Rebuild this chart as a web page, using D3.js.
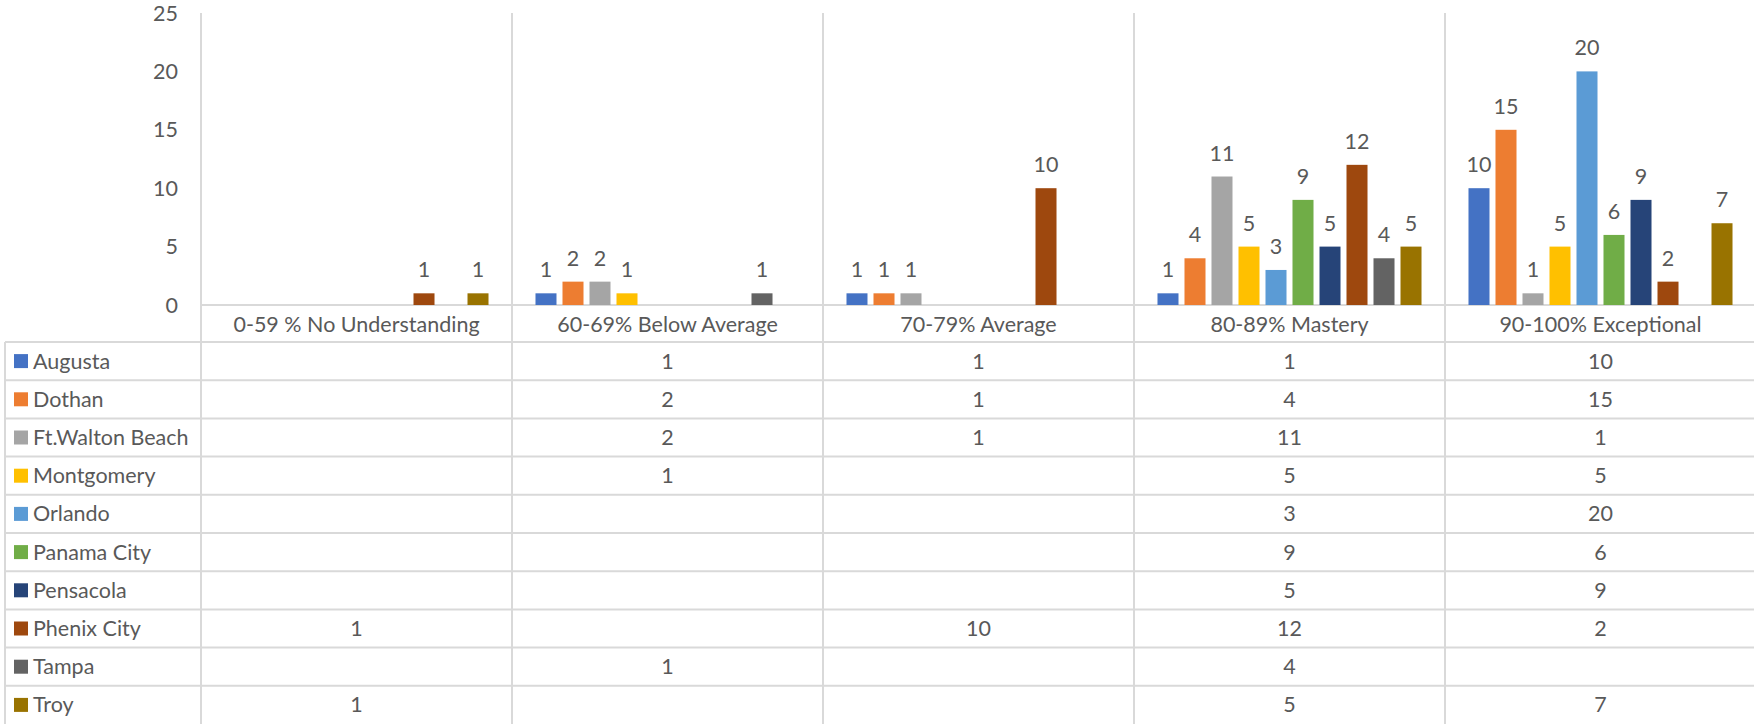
<!DOCTYPE html>
<html>
<head>
<meta charset="utf-8">
<script src="https://cdn.jsdelivr.net/npm/d3@7"></script>
<style>
  body { margin: 0; background: #fff; }
  svg text { font-family: Lato, "Open Sans", sans-serif; fill: #595959; }
</style>
</head>
<body>
<svg id="chart" width="1754" height="724"></svg>
<script>
const categories = ["0-59 % No Understanding", "60-69% Below Average", "70-79% Average", "80-89% Mastery", "90-100% Exceptional"];
const seriesNames = ["Augusta", "Dothan", "Ft.Walton Beach", "Montgomery", "Orlando", "Panama City", "Pensacola", "Phenix City", "Tampa", "Troy"];
const seriesColors = ["#4472C4", "#ED7D31", "#A5A5A5", "#FFC000", "#5B9BD5", "#70AD47", "#264478", "#9E480E", "#636363", "#997300"];
// one value per category, null = empty cell
const augusta = [null, 1, 1, 1, 10];
const dothan = [null, 2, 1, 4, 15];
const ftWalton = [null, 2, 1, 11, 1];
const montgomery = [null, 1, null, 5, 5];
const orlando = [null, null, null, 3, 20];
const panamaCity = [null, null, null, 9, 6];
const pensacola = [null, null, null, 5, 9];
const phenixCity = [1, null, 10, 12, 2];
const tampa = [null, 1, null, 4, null];
const troy = [1, null, null, 5, 7];
const yTicks = [0, 5, 10, 15, 20, 25];

const values = [augusta, dothan, ftWalton, montgomery, orlando, panamaCity, pensacola, phenixCity, tampa, troy];

const W = 1754, H = 724;
const svg = d3.select("#chart");
const gridColor = "#D9D9D9";
const fs = 21.5;

const plotLeft = 201, plotRight = 1756, plotTop = 13, plotBottom = 305;
const tableTop = 342, tableLeft = 5;

const x0 = d3.scaleBand().domain(categories).range([plotLeft, plotRight]).padding(0);
const x1 = d3.scaleBand().domain(seriesNames).range([0, x0.bandwidth()])
  .paddingInner(0.222).paddingOuter(0.87);
const y = d3.scaleLinear().domain([0, 25]).range([plotBottom, plotTop]);
const rowY = d3.scaleBand().domain(seriesNames).range([tableTop, H]);

// vertical category separators (run through the plot and the table)
svg.append("g").selectAll("line")
  .data(categories)
  .join("line")
  .attr("x1", d => x0(d)).attr("x2", d => x0(d))
  .attr("y1", plotTop).attr("y2", H)
  .attr("stroke", gridColor).attr("stroke-width", 2);

// legend column left border
svg.append("line")
  .attr("x1", tableLeft).attr("x2", tableLeft)
  .attr("y1", tableTop).attr("y2", H)
  .attr("stroke", gridColor).attr("stroke-width", 2);

// x axis line
svg.append("line")
  .attr("x1", plotLeft).attr("x2", W)
  .attr("y1", y(0)).attr("y2", y(0))
  .attr("stroke", gridColor).attr("stroke-width", 2);

// table row lines
svg.append("g").selectAll("line")
  .data(seriesNames)
  .join("line")
  .attr("x1", tableLeft).attr("x2", W)
  .attr("y1", d => rowY(d)).attr("y2", d => rowY(d))
  .attr("stroke", gridColor).attr("stroke-width", 2);

// y tick labels
svg.append("g").selectAll("text")
  .data(yTicks)
  .join("text")
  .attr("x", 178).attr("y", d => y(d))
  .attr("dy", "0.35em")
  .attr("text-anchor", "end")
  .attr("font-size", fs)
  .text(d => d);

// category labels
svg.append("g").selectAll("text")
  .data(categories)
  .join("text")
  .attr("x", d => x0(d) + x0.bandwidth() / 2)
  .attr("y", (plotBottom + tableTop) / 2 + 1)
  .attr("dy", "0.35em")
  .attr("text-anchor", "middle")
  .attr("font-size", fs)
  .text(d => d);

// bars + labels
const cells = [];
values.forEach((vals, si) => {
  vals.forEach((v, ci) => {
    if (v != null) cells.push({ s: seriesNames[si], c: categories[ci], v: v, color: seriesColors[si] });
  });
});

const barG = svg.append("g");
barG.selectAll("rect")
  .data(cells)
  .join("rect")
  .attr("x", d => x0(d.c) + x1(d.s))
  .attr("y", d => y(d.v))
  .attr("width", x1.bandwidth())
  .attr("height", d => y(0) - y(d.v))
  .attr("fill", d => d.color);

barG.selectAll("text")
  .data(cells)
  .join("text")
  .attr("x", d => x0(d.c) + x1(d.s) + x1.bandwidth() / 2)
  .attr("y", d => y(d.v) - 16)
  .attr("text-anchor", "middle")
  .attr("font-size", fs)
  .text(d => d.v);

// legend column
const legend = svg.append("g").selectAll("g")
  .data(seriesNames)
  .join("g")
  .attr("transform", d => `translate(0,${rowY(d) + rowY.bandwidth() / 2})`);
legend.append("rect")
  .attr("x", 14).attr("y", -7)
  .attr("width", 14).attr("height", 14)
  .attr("fill", (d, i) => seriesColors[i]);
legend.append("text")
  .attr("x", 33).attr("dy", "0.35em")
  .attr("font-size", fs)
  .text(d => d);

// table values
svg.append("g").selectAll("text")
  .data(cells)
  .join("text")
  .attr("x", d => x0(d.c) + x0.bandwidth() / 2)
  .attr("y", d => rowY(d.s) + rowY.bandwidth() / 2)
  .attr("dy", "0.35em")
  .attr("text-anchor", "middle")
  .attr("font-size", fs)
  .text(d => d.v);
</script>
</body>
</html>
